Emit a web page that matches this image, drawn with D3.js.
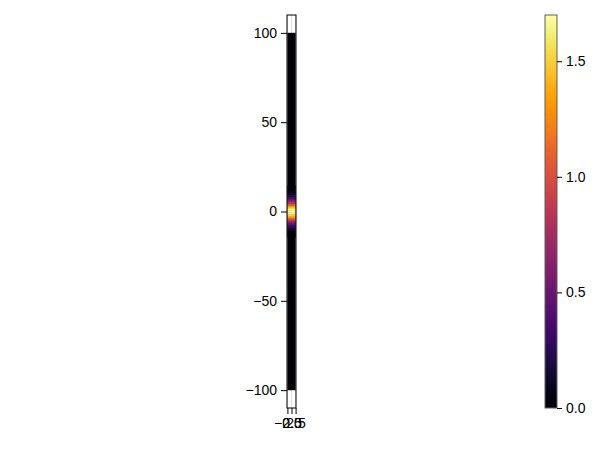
<!DOCTYPE html>
<html><head><meta charset="utf-8">
<script src="https://cdn.jsdelivr.net/npm/d3@7"></script>
<style>body{margin:0;background:#fff}svg{display:block}text{font-family:"Liberation Sans",Arial,sans-serif;font-size:14px;fill:#000}</style>
</head><body>
<svg id="c" width="600" height="450"></svg>
<script>
// data
const xExtent = [-2.5, 2.5];
const yExtent = [-100, 100];
const baseZ = 0;
const profileY = [-14,-13,-12,-11,-10,-9,-8,-7,-6,-5,-4,-3,-2,-1,0,1,2,3,4,5,6,7,8,9,10,11,12,13,14];
const profileZ = [0.01,0.02,0.04,0.08,0.14,0.22,0.33,0.46,0.63,0.84,1.08,1.31,1.52,1.65,1.70,1.65,1.52,1.31,1.08,0.84,0.63,0.46,0.33,0.22,0.14,0.08,0.04,0.02,0.01];
const xTicks = [-2.5, 0, 2.5];
const xTickLabels = ["−2.5", "0.0", "2.5"];
const yTicks = [-100, -50, 0, 50, 100];
const yTickLabels = ["−100", "−50", "0", "50", "100"];
const cTicks = [0, 0.5, 1.0, 1.5];
const cTickLabels = ["0.0", "0.5", "1.0", "1.5"];
const cDomain = [0, 1.7];

const svg = d3.select("#c");
const pad = 0.05;
const xd = [xExtent[0] - pad*(xExtent[1]-xExtent[0]), xExtent[1] + pad*(xExtent[1]-xExtent[0])];
const yd = [yExtent[0] - pad*(yExtent[1]-yExtent[0]), yExtent[1] + pad*(yExtent[1]-yExtent[0])];
const x = d3.scaleLinear().domain(xd).range([287, 296]);
const y = d3.scaleLinear().domain(yd).range([408, 15]);
const color = d3.scaleSequential(d3.interpolateInferno).domain(cDomain);

// grid
const g = svg.append("g");
g.selectAll(".gx").data(xTicks).join("line")
  .attr("x1", d => x(d)).attr("x2", d => x(d)).attr("y1", 15).attr("y2", 408)
  .attr("stroke", "rgba(0,0,0,0.12)").attr("stroke-width", 1);
g.selectAll(".gy").data(yTicks).join("line")
  .attr("x1", 287).attr("x2", 296).attr("y1", d => y(d)).attr("y2", d => y(d))
  .attr("stroke", "rgba(0,0,0,0.12)").attr("stroke-width", 1);

// heatmap
g.append("rect").attr("x", x(xExtent[0])).attr("width", x(xExtent[1]) - x(xExtent[0]))
  .attr("y", y(yExtent[1])).attr("height", y(yExtent[0]) - y(yExtent[1]))
  .attr("fill", color(baseZ));
g.selectAll(".cell").data(profileY.map((v, i) => ({y: v, z: profileZ[i]}))).join("rect")
  .attr("x", x(xExtent[0])).attr("width", x(xExtent[1]) - x(xExtent[0]))
  .attr("y", d => y(d.y + 0.5)).attr("height", d => y(d.y - 0.5) - y(d.y + 0.5) + 0.3)
  .attr("fill", d => color(d.z));

// spines
g.append("rect").attr("x", 287).attr("y", 15).attr("width", 9).attr("height", 393)
  .attr("fill", "none").attr("stroke", "#000").attr("stroke-width", 1);

// y axis
const yAxis = d3.axisLeft(y).tickValues(yTicks).tickFormat((d, i) => yTickLabels[i]).tickSize(6).tickPadding(4);
const ya = svg.append("g").attr("transform", "translate(287,0)").call(yAxis);
ya.select(".domain").remove();
ya.selectAll("text").style("font-size", "14px").attr("fill", "#000").attr("font-family", "Liberation Sans, Arial, sans-serif");
ya.selectAll("line").attr("stroke", "#000");

// x axis
const xAxis = d3.axisBottom(x).tickValues(xTicks).tickFormat((d, i) => xTickLabels[i]).tickSize(6).tickPadding(4);
const xa = svg.append("g").attr("transform", "translate(0,408)").call(xAxis);
xa.select(".domain").remove();
xa.selectAll("text").style("font-size", "14px").attr("fill", "#000").attr("font-family", "Liberation Sans, Arial, sans-serif");
xa.selectAll("line").attr("stroke", "#000");

// colorbar
const cy = d3.scaleLinear().domain(cDomain).range([408, 15]);
const defs = svg.append("defs");
const grad = defs.append("linearGradient").attr("id", "cb").attr("x1", "0").attr("y1", "1").attr("x2", "0").attr("y2", "0");
d3.range(0, 1.0001, 0.02).forEach(t => grad.append("stop").attr("offset", t).attr("stop-color", d3.interpolateInferno(t)));
svg.append("rect").attr("x", 545).attr("y", cy(cDomain[1])).attr("width", 12).attr("height", cy(cDomain[0]) - cy(cDomain[1]))
  .attr("fill", "url(#cb)").attr("stroke", "#5f5f5f").attr("stroke-width", 1);
const cAxis = d3.axisRight(cy).tickValues(cTicks).tickFormat((d, i) => cTickLabels[i]).tickSize(5).tickPadding(4);
const ca = svg.append("g").attr("transform", "translate(557,0)").call(cAxis);
ca.select(".domain").remove();
ca.selectAll("text").style("font-size", "14px").attr("fill", "#000").attr("font-family", "Liberation Sans, Arial, sans-serif");
ca.selectAll("line").attr("stroke", "#000");
</script>
</body></html>
